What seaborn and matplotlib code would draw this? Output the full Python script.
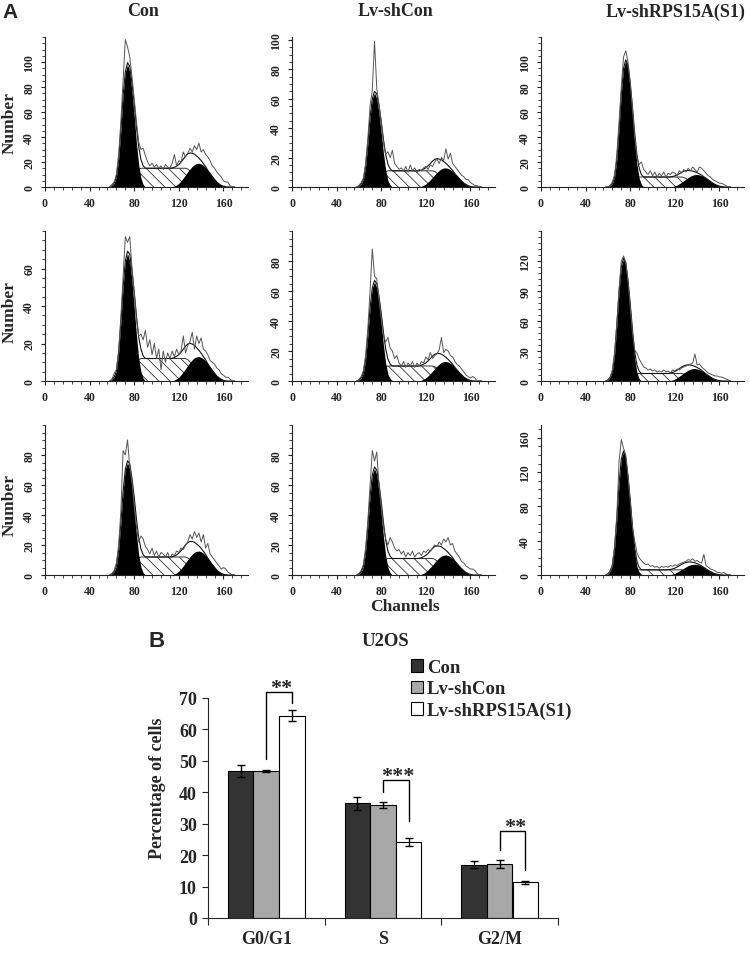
import numpy as np
import pandas as pd
import matplotlib
matplotlib.use("Agg")
import matplotlib.pyplot as plt
from matplotlib.ticker import MultipleLocator, FixedLocator
import seaborn as sns

# ---------------- data: panel A (DNA histograms) ----------------
GRID_START = 58   # first channel of the raw histograms
G1_START = 58     # first channel of G1 component
S_START = 72      # first channel of S component
G2_START = 112    # first channel of G2 component
STEP = 2          # channel step of all series

COLUMN_TITLES = ["Con", "Lv-shCon", "Lv-shRPS15A(S1)"]
X_TICKS = [0, 40, 80, 120, 160]

# Con
con_r1_raw = [0, 2, 4, 10, 26, 52, 85, 118, 112, 104,
              88, 70, 52, 36, 30, 31, 25, 20, 17, 19,
              16, 18, 15, 17, 14, 18, 16, 15, 19, 26,
              17, 21, 20, 28, 24, 27, 31, 28, 33, 30,
              35, 28, 30, 26, 24, 21, 17, 15, 12, 10,
              8, 5, 4, 4, 1, 0, 0]
con_r1_g1 = [0, 1, 3, 8, 22, 45, 73, 92, 98, 92, 76, 57, 35, 18, 7, 2, 0, 0]
con_r1_s = [0, 1.5, 4.5, 7.5, 10.5, 12.8, 14.3,
            15, 15, 15, 15, 15, 15, 15, 15, 15, 15, 15, 15, 15, 15, 15, 15, 15, 15, 15, 15, 15,
            14.3, 12.8, 10.5, 8.3, 6, 4.2, 2.7, 1.5, 0.8, 0]
con_r1_g2 = [0, 0.2, 0.8, 1.7, 3, 5, 7.2, 9.7, 12.2, 14.4,
             16.5, 18, 18.8, 19, 18.4, 17.3, 15.6, 13.3, 10.8, 8.4,
             6.1, 4, 2.5, 1.3, 0.6, 0.2, 0, 0]

con_r2_raw = [0, 1, 4, 6, 16, 34, 55, 77, 74, 77,
              60, 47, 33, 24, 25, 22, 27, 18, 22, 14,
              20, 12, 17, 6, 16, 10, 15, 12, 16, 13,
              17, 14, 16, 24, 15, 19, 21, 26, 17, 24,
              20, 23, 17, 16, 14, 11, 10, 9, 7, 6,
              4, 3, 2, 2, 1, 0, 0]
con_r2_g1 = [0, 0.7, 2, 5.4, 15, 31, 50, 64, 68, 64, 53, 39, 24.5, 12, 5, 1.4, 0, 0]
con_r2_s = [0, 1.2, 3.6, 6, 8.4, 10.2, 11.4,
            12, 12, 12, 12, 12, 12, 12, 12, 12, 12, 12, 12, 12, 12, 12, 12, 12, 12, 12, 12, 12,
            11.4, 10.2, 8.4, 6.6, 4.8, 3.4, 2.2, 1.2, 0.6, 0]
con_r2_g2 = [0, 0.1, 0.5, 1.2, 2.1, 3.4, 4.9, 6.6, 8.3, 9.9,
             11.3, 12.4, 12.9, 13, 12.6, 11.8, 10.7, 9.1, 7.4, 5.7,
             4.2, 2.7, 1.7, 0.9, 0.4, 0.1, 0, 0]

con_r3_raw = [0, 1, 3, 8, 20, 42, 83, 80, 90, 72,
              62, 46, 32, 22, 26, 24, 19, 17, 14, 18,
              13, 16, 12, 15, 14, 12, 15, 11, 14, 13,
              16, 15, 18, 17, 20, 22, 27, 24, 29, 25,
              28, 22, 27, 18, 21, 14, 12, 10, 8, 6,
              4, 5, 4, 2, 1, 0, 0]
con_r3_g1 = [0, 0.8, 2.3, 6, 16.5, 34.5, 55.5, 70.5, 75, 70.5, 58.5, 43.5, 27, 13.5, 5.3, 1.5, 0, 0]
con_r3_s = [0, 1.2, 3.6, 6, 8.4, 10.2, 11.4,
            12, 12, 12, 12, 12, 12, 12, 12, 12, 12, 12, 12, 12, 12, 12, 12, 12, 12, 12, 12, 12,
            11.4, 10.2, 8.4, 6.6, 4.8, 3.4, 2.2, 1.2, 0.6, 0]
con_r3_g2 = [0, 0.2, 0.6, 1.4, 2.6, 4.2, 6.1, 8.2, 10.2, 12.2,
             13.9, 15.2, 15.8, 16, 15.5, 14.6, 13.1, 11.2, 9.1, 7,
             5.1, 3.4, 2.1, 1.1, 0.5, 0.2, 0, 0]

# Lv-shCon
shcon_r1_raw = [0, 1, 3, 6, 16, 33, 55, 66, 99, 67,
                56, 44, 30, 22, 24, 20, 25, 16, 14, 12,
                13, 11, 14, 10, 15, 11, 13, 10, 12, 11,
                13, 14, 12, 15, 14, 17, 19, 16, 20, 18,
                26, 19, 23, 16, 14, 12, 10, 8, 7, 5,
                5, 3, 2, 1, 1, 0, 0]
shcon_r1_g1 = [0, 0.6, 1.9, 5.1, 14, 29.4, 47.4, 60, 64, 60, 50, 37, 23, 11.5, 4.5, 1.3, 0, 0]
shcon_r1_s = [0, 1.1, 3.3, 5.5, 7.7, 9.4, 10.5,
              11, 11, 11, 11, 11, 11, 11, 11, 11, 11, 11, 11, 11, 11, 11, 11, 11, 11, 11, 11, 11,
              10.5, 9.4, 7.7, 6.1, 4.4, 3.1, 2, 1.1, 0.6, 0]
shcon_r1_g2 = [0, 0.1, 0.5, 1.2, 2.1, 3.4, 4.9, 6.6, 8.3, 9.9,
               11.3, 12.4, 12.9, 13, 12.6, 11.8, 10.7, 9.1, 7.4, 5.7,
               4.2, 2.7, 1.7, 0.9, 0.4, 0.1, 0, 0]

shcon_r2_raw = [0, 1, 3, 7, 17, 35, 60, 88, 70, 68,
                55, 42, 30, 26, 29, 22, 20, 15, 17, 12,
                10, 13, 9, 12, 10, 13, 9, 12, 10, 13,
                12, 16, 14, 19, 15, 17, 18, 21, 29, 19,
                21, 20, 17, 16, 13, 11, 10, 8, 6, 4,
                3, 2, 3, 2, 0, 0, 0]
shcon_r2_g1 = [0, 0.7, 2, 5.3, 14.5, 30.4, 48.8, 62, 66, 62, 51.5, 38.3, 23.8, 11.9, 4.6, 1.3, 0, 0]
shcon_r2_s = [0, 1, 3, 5, 7, 8.5, 9.5,
              10, 10, 10, 10, 10, 10, 10, 10, 10, 10, 10, 10, 10, 10, 10, 10, 10, 10, 10, 10, 10,
              9.5, 8.5, 7, 5.5, 4, 2.8, 1.8, 1, 0.5, 0]
shcon_r2_g2 = [0, 0.1, 0.5, 1.2, 2.1, 3.4, 4.9, 6.6, 8.3, 9.9,
               11.3, 12.4, 12.9, 13, 12.6, 11.8, 10.7, 9.1, 7.4, 5.7,
               4.2, 2.7, 1.7, 0.9, 0.4, 0.1, 0, 0]

shcon_r3_raw = [0, 1, 3, 7, 18, 36, 60, 83, 76, 82,
                60, 46, 32, 24, 20, 25, 22, 18, 16, 17,
                14, 16, 12, 15, 13, 16, 12, 14, 15, 13,
                16, 15, 17, 16, 18, 20, 19, 22, 20, 24,
                22, 25, 20, 21, 16, 14, 12, 9, 8, 6,
                5, 4, 4, 3, 1, 0, 0]
shcon_r3_g1 = [0, 0.7, 2.1, 5.7, 15.6, 32.7, 52.5, 66.7, 71, 66.7, 55.4, 41.2, 25.6, 12.8, 5, 1.4, 0, 0]
shcon_r3_s = [0, 1.1, 3.3, 5.5, 7.7, 9.4, 10.5,
              11, 11, 11, 11, 11, 11, 11, 11, 11, 11, 11, 11, 11, 11, 11, 11, 11, 11, 11, 11, 11,
              10.5, 9.4, 7.7, 6.1, 4.4, 3.1, 2, 1.1, 0.6, 0]
shcon_r3_g2 = [0, 0.1, 0.5, 1.2, 2.1, 3.4, 5, 6.7, 8.5, 10.1,
               11.6, 12.7, 13.2, 13.4, 13, 12.2, 11, 9.4, 7.6, 5.9,
               4.3, 2.8, 1.7, 0.9, 0.4, 0.1, 0, 0]

# Lv-shRPS15A(S1)
rps_r1_raw = [0, 0, 1, 4, 10, 26, 52, 80, 104, 109,
              100, 84, 62, 40, 24, 18, 20, 14, 12, 10,
              13, 9, 12, 8, 11, 9, 12, 8, 11, 10,
              12, 11, 9, 13, 11, 14, 12, 15, 13, 16,
              14, 12, 16, 15, 13, 11, 9, 8, 6, 5,
              4, 3, 3, 2, 1, 0, 0]
rps_r1_g1 = [0, 0, 1, 3, 8, 22.2, 46.5, 74.7, 95, 101, 95, 78.8, 58.6, 36.4, 18.2, 7.1, 2, 0]
rps_r1_s = [0, 0, 0.8, 2.4, 4, 5.6, 6.8, 7.6,
            8, 8, 8, 8, 8, 8, 8, 8, 8, 8, 8, 8, 8, 8, 8, 8, 8, 8, 8, 8,
            7.6, 6.8, 5.6, 4.4, 3.2, 2.2, 1.4, 0.8, 0.4, 0]
rps_r1_g2 = [0, 0, 0.1, 0.4, 0.9, 1.6, 2.6, 3.8, 5.1, 6.4,
             7.6, 8.7, 9.5, 9.9, 10, 9.7, 9.1, 8.2, 7, 5.7,
             4.4, 3.2, 2.1, 1.3, 0.7, 0.3, 0.1, 0]

rps_r2_raw = [0, 1, 4, 11, 28, 58, 92, 120, 125, 119,
              100, 74, 48, 31, 28, 22, 18, 14, 13, 11,
              12, 10, 11, 9, 10, 9, 11, 9, 10, 8,
              11, 10, 12, 11, 13, 14, 15, 16, 17, 18,
              27, 16, 17, 14, 12, 10, 8, 7, 6, 5,
              5, 4, 4, 3, 2, 1, 0]
rps_r2_g1 = [0, 1.2, 3.7, 9.8, 26.8, 56, 90, 114.7, 122, 116, 97, 72, 45, 22, 8.5, 2.4, 0, 0]
rps_r2_s = [0, 0.8, 2.3, 3.8, 5.3, 6.4, 7.1,
            7.5, 7.5, 7.5, 7.5, 7.5, 7.5, 7.5, 7.5, 7.5, 7.5, 7.5, 7.5, 7.5, 7.5, 7.5, 7.5, 7.5,
            7.5, 7.5, 7.5, 7.5,
            7.1, 6.4, 5.3, 4.1, 3, 2.1, 1.4, 0.8, 0.4, 0]
rps_r2_g2 = [0, 0.1, 0.5, 1.1, 2, 3.3, 4.8, 6.4, 8, 9.5,
             10.9, 11.9, 12.4, 12.5, 12.1, 11.4, 10.3, 8.8, 7.1, 5.5,
             4, 2.6, 1.6, 0.9, 0.4, 0.1, 0, 0]

rps_r3_raw = [0, 1, 5, 12, 34, 70, 133, 158, 148, 140,
              115, 86, 55, 40, 26, 20, 17, 14, 12, 13,
              10, 11, 9, 10, 8, 10, 9, 10, 9, 11,
              10, 12, 11, 13, 14, 15, 16, 18, 17, 19,
              16, 17, 15, 14, 24, 11, 9, 7, 6, 5,
              3, 3, 2, 3, 1, 0, 0]
rps_r3_g1 = [0, 1.4, 4.3, 11.5, 31.7, 66, 106.6, 135.4, 144, 135.4, 112.3, 83.5, 51.8, 26, 10, 2.9, 0, 0]
rps_r3_s = [0, 0.6, 1.8, 3, 4.2, 5.1, 5.7,
            6, 6, 6, 6, 6, 6, 6, 6, 6, 6, 6, 6, 6, 6, 6, 6, 6, 6, 6, 6, 6,
            5.7, 5.1, 4.2, 3.3, 2.4, 1.7, 1.1, 0.6, 0.3, 0]
rps_r3_g2 = [0, 0.1, 0.5, 1.1, 2, 3.3, 4.8, 6.4, 8, 9.5,
             10.9, 11.9, 12.4, 12.5, 12.1, 11.4, 10.3, 8.8, 7.1, 5.5,
             4, 2.6, 1.6, 0.9, 0.4, 0.1, 0, 0]

# y axis: (max, major step, last labelled tick, minor step)
Y_AXES = [
    [(120, 20, 100, 5), (102, 20, 100, 5), (120, 20, 100, 5)],
    [(80, 20, 60, 5), (100, 20, 80, 5), (150, 30, 120, 6)],
    [(100, 20, 80, 5), (100, 20, 80, 5), (175, 40, 160, 10)],
]
PANELS = [
    [(con_r1_raw, con_r1_g1, con_r1_s, con_r1_g2),
     (shcon_r1_raw, shcon_r1_g1, shcon_r1_s, shcon_r1_g2),
     (rps_r1_raw, rps_r1_g1, rps_r1_s, rps_r1_g2)],
    [(con_r2_raw, con_r2_g1, con_r2_s, con_r2_g2),
     (shcon_r2_raw, shcon_r2_g1, shcon_r2_s, shcon_r2_g2),
     (rps_r2_raw, rps_r2_g1, rps_r2_s, rps_r2_g2)],
    [(con_r3_raw, con_r3_g1, con_r3_s, con_r3_g2),
     (shcon_r3_raw, shcon_r3_g1, shcon_r3_s, shcon_r3_g2),
     (rps_r3_raw, rps_r3_g1, rps_r3_s, rps_r3_g2)],
]

# ---------------- data: panel B (bar chart) ----------------
PHASES = ["G0/G1", "S", "G2/M"]
GROUPS = ["Con", "Lv-shCon", "Lv-shRPS15A(S1)"]
CON_PCT = [46.7, 36.5, 17.0]
SHCON_PCT = [46.8, 36.0, 17.2]
RPS_PCT = [64.3, 24.3, 11.3]
CON_SD = [1.9, 2.0, 1.2]
SHCON_SD = [0.3, 0.9, 1.2]
RPS_SD = [1.75, 1.3, 0.4]
BRACKET_LEFT_LOW = [50.6, 40.0, 21.7]
BRACKET_TOP = [72.0, 44.0, 27.7]
BRACKET_RIGHT_LOW = [68.5, 31.0, 15.3]
STARS = ["**", "***", "**"]
BAR_COLORS = ["#333333", "#a8a8a8", "#ffffff"]

# ---------------- style ----------------
sns.set_style("ticks")
plt.rcParams["font.family"] = ["Liberation Serif", "DejaVu Serif"]
plt.rcParams["font.weight"] = "bold"
plt.rcParams["hatch.linewidth"] = 0.6
plt.rcParams["axes.linewidth"] = 0.8

W, H = 750, 954
fig = plt.figure(figsize=(W / 100, H / 100), dpi=100)


def add_axes_px(left, top, width, height):
    return fig.add_axes([left / W, 1 - (top + height) / H, width / W, height / H])


def on_grid(vals, start, n):
    full = np.zeros(n)
    i0 = (start - GRID_START) // STEP
    full[i0:i0 + len(vals)] = vals
    return full


COL_LEFT = [45, 292, 541]
ROW_TOP = [38, 232, 426]
AX_W, AX_H = 203, 150
DARK = "#222222"

for r in range(3):
    for c in range(3):
        raw, g1, s, g2 = PANELS[r][c]
        ymax, ystep, ylab, yminor = Y_AXES[r][c]
        ax = add_axes_px(COL_LEFT[c], ROW_TOP[r], AX_W, AX_H)
        n = len(raw)
        ch = GRID_START + STEP * np.arange(n)
        ch_g1 = G1_START + STEP * np.arange(len(g1))
        ch_s = S_START + STEP * np.arange(len(s))
        ch_g2 = G2_START + STEP * np.arange(len(g2))

        ax.fill_between(ch_s, 0, s, facecolor="white", edgecolor="#333333",
                        hatch="\\\\\\", linewidth=0, zorder=1)
        ax.plot(ch_s, s, color="#333333", lw=0.7, zorder=1.5)
        ax.fill_between(ch_g2, 0, g2, color="black", linewidth=0, zorder=2)
        ax.fill_between(ch_g1, 0, g1, color="black", linewidth=0, zorder=2)

        fit = on_grid(g1, G1_START, n) + on_grid(s, S_START, n) + on_grid(g2, G2_START, n)
        sns.lineplot(x=ch, y=fit, ax=ax, color="#111111", lw=0.8, estimator=None, zorder=3)
        sns.lineplot(x=ch, y=np.array(raw, dtype=float), ax=ax, color="#555555", lw=0.7,
                     estimator=None, zorder=4)

        ax.set_xlim(0, 182)
        ax.set_ylim(0, ymax)
        ax.xaxis.set_major_locator(FixedLocator(X_TICKS))
        ax.xaxis.set_minor_locator(MultipleLocator(8))
        ax.yaxis.set_major_locator(FixedLocator(list(range(0, ylab + 1, ystep))))
        ax.yaxis.set_minor_locator(MultipleLocator(yminor))
        ax.tick_params(axis="both", which="major", direction="out", length=3, width=0.8,
                       labelsize=8.5, color=DARK)
        ax.tick_params(axis="both", which="minor", direction="out", length=2, width=0.6, color=DARK)
        ax.tick_params(axis="x", pad=4)
        ax.tick_params(axis="y", pad=4)
        for lab in ax.get_yticklabels():
            lab.set_rotation(90)
            lab.set_va("center")
        ax.set_xlabel("")
        ax.set_ylabel("")
        for sp in ["top", "right"]:
            ax.spines[sp].set_visible(False)
        for sp in ["left", "bottom"]:
            ax.spines[sp].set_color(DARK)

# column titles and labels for panel A
TITLE_X = [143, 396, 676]
for c in range(3):
    fig.text(TITLE_X[c] / W, 1 - 12 / H, COLUMN_TITLES[c], ha="center", va="center", fontsize=13)
for y in [123, 312, 505]:
    fig.text(10 / W, 1 - y / H, "Number", rotation=90, ha="center", va="center", fontsize=12.5)
fig.text(405 / W, 1 - 607 / H, "Channels", ha="center", va="center", fontsize=12.5)
fig.text(10 / W, 1 - 13 / H, "A", ha="center", va="center", fontsize=15,
         family=["Liberation Sans", "DejaVu Sans"], weight="bold")

# ---------------- panel B ----------------
df = pd.DataFrame({
    "phase": PHASES * 3,
    "group": [g for g in GROUPS for _ in PHASES],
    "pct": CON_PCT + SHCON_PCT + RPS_PCT,
})
axb = add_axes_px(208, 699, 350, 220)
sns.barplot(data=df, x="phase", y="pct", hue="group", order=PHASES, hue_order=GROUPS,
            palette=BAR_COLORS, saturation=1, edgecolor="black", linewidth=0.8,
            width=0.66, errorbar=None, ax=axb)
SDS = [CON_SD, SHCON_SD, RPS_SD]
bar_conts = list(axb.containers)[:3]
centers = []
for i, cont in enumerate(bar_conts):
    xs = [b.get_x() + b.get_width() / 2 for b in cont]
    hs = [b.get_height() for b in cont]
    centers.append(xs)
    axb.errorbar(xs, hs, yerr=SDS[i], fmt="none", ecolor="black", elinewidth=1,
                 capsize=3, capthick=1, zorder=5)

for k in range(3):
    x1, x2 = centers[1][k], centers[2][k]
    axb.plot([x1, x1, x2, x2],
             [BRACKET_LEFT_LOW[k], BRACKET_TOP[k], BRACKET_TOP[k], BRACKET_RIGHT_LOW[k]],
             color="black", lw=1, clip_on=False, zorder=6)
    axb.text((x1 + x2) / 2 + 0.02, BRACKET_TOP[k] - 0.4, STARS[k], ha="center", va="baseline",
             fontsize=16, clip_on=False)

axb.set_ylim(0, 70)
axb.set_xlim(-0.5, 2.5)
axb.set_yticks(range(0, 71, 10))
axb.set_xticks([0, 1, 2])
axb.set_xticklabels(PHASES)
axb.set_xticks([-0.5, 0.5, 1.5, 2.5], minor=True)
axb.tick_params(axis="x", which="major", length=0, labelsize=13, pad=9)
axb.tick_params(axis="x", which="minor", length=5, direction="out", width=0.8)
axb.tick_params(axis="y", which="major", length=4, direction="out", width=0.8, labelsize=13, pad=4)
axb.set_xlabel("")
axb.set_ylabel("")
for sp in ["top", "right"]:
    axb.spines[sp].set_visible(False)

handles, labels = axb.get_legend_handles_labels()
axb.legend(handles[:3], labels[:3], loc="upper left", bbox_to_anchor=(411 / W, 1 - 660 / H),
           bbox_transform=fig.transFigure, frameon=False, fontsize=13.5,
           handlelength=0.65, handleheight=0.65, handletextpad=0.2,
           labelspacing=0.24, borderaxespad=0, borderpad=0)

fig.text(157 / W, 1 - 788 / H, "Percentage of cells", rotation=90, ha="center", va="center",
         fontsize=13)
fig.text(385 / W, 1 - 642 / H, "U2OS", ha="center", va="center", fontsize=13.5)
fig.text(157 / W, 1 - 642 / H, "B", ha="center", va="center", fontsize=16,
         family=["Liberation Sans", "DejaVu Sans"], weight="bold")

fig.savefig("out.png", dpi=100)
